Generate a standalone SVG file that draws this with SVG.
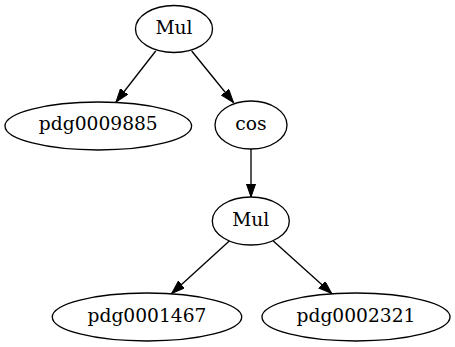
<svg xmlns="http://www.w3.org/2000/svg" width="455" height="347" viewBox="0 0 455 347">
<style>
.node ellipse{fill:none;stroke:#000;stroke-width:1.33}
.node text{font-family:"DejaVu Serif","Liberation Serif",serif;font-size:18.67px;text-anchor:middle;fill:#000}
.edge{stroke:#000;stroke-width:1.33;fill:none;marker-end:url(#arr)}
</style>
<defs>
<marker id="arr" markerUnits="userSpaceOnUse" markerWidth="14" markerHeight="10" refX="13.3" refY="4.67" orient="auto">
<path d="M0,0 L13.3,4.67 L0,9.33 z" fill="#000" stroke="#000" stroke-width="1"/>
</marker>
</defs>
<rect width="455" height="347" fill="#fff"/>
<g id="edges">
<path class="edge" d="M155.7,51 L116,102"/>
<path class="edge" d="M191.7,51 L233.5,102.5"/>
<path class="edge" d="M251,149 L251,197"/>
<path class="edge" d="M229.3,241 L171.7,293.5"/>
<path class="edge" d="M273.3,241 L331.7,293.5"/>
</g>
<g id="mul1" class="node"><ellipse cx="174" cy="29" rx="38.5" ry="23.5"/><text x="174" y="33.5">Mul</text></g>
<g id="pdg0009885" class="node"><ellipse cx="98.3" cy="126" rx="93.3" ry="24"/><text x="98.3" y="130">pdg0009885</text></g>
<g id="cos" class="node"><ellipse cx="251" cy="125" rx="36" ry="24"/><text x="251" y="129.5">cos</text></g>
<g id="mul2" class="node"><ellipse cx="250.8" cy="221" rx="38.5" ry="24"/><text x="250.8" y="225.5">Mul</text></g>
<g id="pdg0001467" class="node"><ellipse cx="147" cy="317" rx="94.7" ry="24"/><text x="147" y="321.5">pdg0001467</text></g>
<g id="pdg0002321" class="node"><ellipse cx="356" cy="317" rx="94" ry="24"/><text x="356" y="321.5">pdg0002321</text></g>
</svg>
